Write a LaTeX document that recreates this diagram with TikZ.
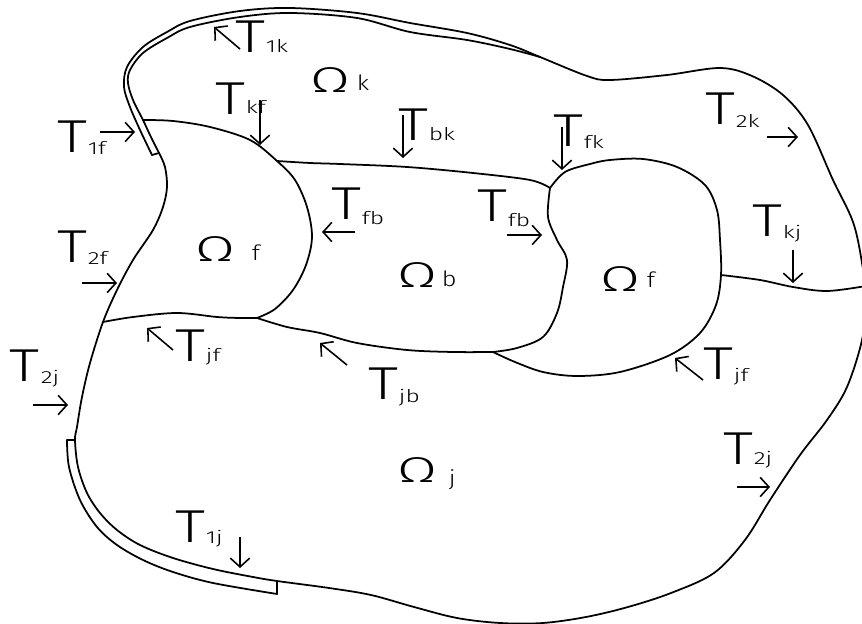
\documentclass[tikz,border=0pt]{standalone}
\usepackage{fontspec}
\setmainfont{Fira Sans Light}
\usetikzlibrary{arrows.meta}
\newcommand\bigT{\resizebox{17pt}{18pt}{T}}
\newcommand\subT[1]{\scalebox{1.4}[1]{\fontsize{10}{10}\selectfont #1}}
\newcommand\Tsub[2]{\bigT\kern0.6pt\raisebox{#1}{\subT{#2}}}
\newcommand\bigO{\resizebox{22.7pt}{14.2pt}{Ω}}
\newcommand\subO[1]{\scalebox{1.2}[1]{\fontsize{12}{12}\selectfont #1}}
\newcommand\Osub[3]{\bigO\kern#1\raisebox{#2}{\subO{#3}}}
\begin{document}
\begin{tikzpicture}[x=0.02cm,y=-0.02cm,
  ln/.style={line width=1pt, line join=round, line cap=round},
  ar/.style={line width=0.9pt, -{Straight Barb[length=5pt,width=11pt,line width=0.9pt]}},
  tl/.style={anchor=base west, inner sep=0pt, outer sep=0pt}]
\useasboundingbox (0,0) rectangle (862,624);
\clip (0,0) rectangle (862,624);
% outer boundary
\draw[ln] plot[smooth,tension=0.55] coordinates {(152,155) (140,130) (130,107) (124,87) (127,67) (143,47) (167,32) (190,21) (240,11) (290,8) (357,13) (410,23) (467,33) (510,45) (540,57) (587,76) (610,80) (667,75) (720,68) (752,76) (783,95) (808,125) (833,180) (853,222) (862,263) (866,300) (862,340) (847,387) (827,420) (800,455) (770,500) (745,540) (714,573) (671,593) (628,607) (586,617) (543,623) (500,623) (457,618) (414,607) (371,595) (329,588) (277,581) (253,577) (213,569) (173,558) (140,545) (117,530) (100,513) (87,493) (78,467) (75,440) (77,427) (82,397) (90,363) (103,322) (117,290) (133,260) (153,230) (163,207) (167,187) (165,167) (159,153)};
\draw[ln] (159,153) -- (152,155);
% top strip inner line
\draw[ln] plot[smooth,tension=0.55] coordinates {(159,153) (150,135) (143,120) (133,100) (128,83) (130,70) (143,53) (167,38) (190,27) (240,17) (290,13) (357,18) (410,32) (467,40) (510,49) (540,57)};
% bottom strip outer line
\draw[ln] plot[smooth,tension=0.55] coordinates {(67,440) (69,467) (80,500) (97,527) (117,545) (143,560) (173,572) (213,583) (277,594)};
\draw[ln] (67,440) -- (75,440);
\draw[ln] (277,594) -- (277,581);
% left Omega_f
\draw[ln] plot[smooth,tension=0.55] coordinates {(143,120) (173,121) (210,127) (250,140) (277,161) (295,180) (307,207) (312,237) (306,265) (293,290) (275,309) (257,318)};
\draw[ln] plot[smooth,tension=0.55] coordinates {(257,318) (240,318) (217,317) (177,313) (133,317) (103,322)};
% Omega_b
\draw[ln] plot[smooth,tension=0.55] coordinates {(277,161) (310,163) (340,164) (407,167) (473,173) (530,180) (550,188)};
\draw[ln] plot[smooth,tension=0.55] coordinates {(550,188) (548,217) (557,240) (567,260) (563,287) (557,313) (543,337) (517,348) (493,352)};
\draw[ln] plot[smooth,tension=0.55] coordinates {(257,318) (287,327) (320,333) (357,343) (407,350) (453,352) (493,352)};
% right Omega_f
\draw[ln] plot[smooth,tension=0.55] coordinates {(550,188) (565,172) (590,164) (610,160) (643,159) (677,167) (705,185) (717,210) (720,240) (721,275) (716,305) (700,333) (670,355) (620,372) (577,376) (543,372) (515,362) (493,352)};
% k-j interface
\draw[ln] plot[smooth,tension=0.55] coordinates {(721,275) (760,280) (793,287) (827,291) (866,286)};
% arrows
\draw[ar] (240,49) -- (214,27);
\draw[ar] (260,100) -- (260,145);
\draw[ar] (403,115) -- (403,158);
\draw[ar] (562,127) -- (562,170);
\draw[ar] (767,137) -- (798,137);
\draw[ar] (100,132) -- (135,132);
\draw[ar] (82,283) -- (117,283);
\draw[ar] (355,232) -- (322,232);
\draw[ar] (507,235) -- (542,235);
\draw[ar] (347,365) -- (320,343);
\draw[ar] (793,250) -- (793,283);
\draw[ar] (703,380) -- (675,358);
\draw[ar] (737,487) -- (770,487);
\draw[ar] (173,350) -- (147,328);
\draw[ar] (33,405) -- (68,405);
\draw[ar] (240,537) -- (240,568);
% T labels
\node[tl] (t1k) at (235,53) {\Tsub{0pt}{1k}};
\node[tl] (tkf) at (215,115) {\Tsub{1.1pt}{kf}};
\node[tl] (tbk) at (398,141) {\Tsub{0pt}{bk}};
\node[tl] (tfk) at (553,147) {\Tsub{-0.6pt}{fk}};
\node[tl] (t2k) at (705,125) {\Tsub{-1.7pt}{2k}};
\node[tl] (t1f) at (57,153) {\Tsub{-1.1pt}{1f}};
\node[tl] (t2f) at (57,263) {\Tsub{-1.1pt}{2f}};
\node[tl] (tfba) at (331,220) {\Tsub{-2.8pt}{fb}};
\node[tl] (tfbb) at (477,222) {\Tsub{-2.8pt}{fb}};
\node[tl] (tjb) at (368,400) {\Tsub{-1.7pt}{jb}};
\node[tl] (tkj) at (752,237) {\Tsub{-0.6pt}{kj}};
\node[tl] (tjfb) at (703,380) {\Tsub{-0.6pt}{jf}};
\node[tl] (t2jb) at (723,465) {\Tsub{0pt}{2j}};
\node[tl] (tjfa) at (175,362) {\Tsub{0pt}{jf}};
\node[tl] (t2ja) at (10,382) {\Tsub{-0.6pt}{2j}};
\node[tl] (t1j) at (175,543) {\Tsub{0pt}{1j}};
% Omega labels
\node[tl] (ok) at (310,93) {\Osub{4pt}{1.7pt}{k}};
\node[tl] (ofa) at (195,262) {\Osub{9.6pt}{1.1pt}{f}};
\node[tl] (ob) at (397,288) {\Osub{2.8pt}{0.6pt}{b}};
\node[tl] (ofb) at (600,292) {\Osub{4pt}{2.3pt}{f}};
\node[tl] (oj) at (397,483) {\Osub{6.8pt}{-1.7pt}{j}};
\end{tikzpicture}
\end{document}
